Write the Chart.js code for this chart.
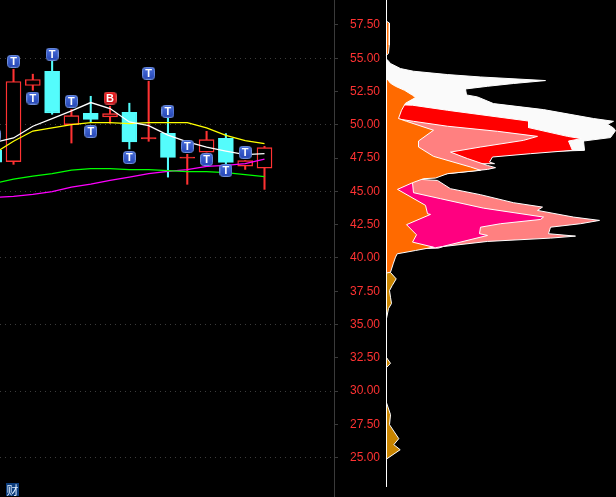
<!DOCTYPE html>
<html>
<head>
<meta charset="utf-8">
<title>K线与筹码分布</title>
<script src="https://cdn.jsdelivr.net/npm/chart.js@4/dist/chart.umd.min.js"></script>
<style>
  html, body { margin: 0; padding: 0; background: #000; overflow: hidden; }
  #stage { position: relative; width: 616px; height: 497px; background: #000; }
  #klineChart { position: absolute; left: 0; top: 0; }
  #chipChart { position: absolute; left: 385px; top: 0; }
  #badge {
    position: absolute; left: 6px; top: 483px; width: 13px; height: 13px;
    background: #0b3c7c; color: #dcecff; font: 12px/13px "Noto Sans CJK SC", sans-serif; text-align: center;
  }
</style>
</head>
<body>
<div id="stage">
  <canvas id="klineChart" width="380" height="497"></canvas>
  <canvas id="chipChart" width="231" height="497"></canvas>
  <div id="badge">财</div>
</div>
<script>
// price axis
const priceMin = 22.05;
const priceMax = 59.37;
const priceTicks = [25, 27.5, 30, 32.5, 35, 37.5, 40, 42.5, 45, 47.5, 50, 52.5, 55, 57.5];

// candles, k = 0 is cut off by the left edge
const candleIndex = [0, 1, 2, 3, 4, 5, 6, 7, 8, 9, 10, 11, 12, 13, 14];
const candleKind = ['down', 'up', 'up', 'down', 'up', 'down', 'up', 'down', 'doji', 'down', 'doji', 'up', 'down', 'up', 'up'];
const bodyTop = [48.08, 53.25, 53.40, 54.02, 50.69, 50.86, 50.84, 50.94, 49.04, 49.36, 47.57, 48.89, 48.98, 47.31, 48.28];
const bodyBottom = [47.20, 47.23, 52.95, 50.89, 50.01, 50.41, 50.59, 48.71, 48.93, 47.55, 47.50, 47.95, 47.18, 46.90, 46.75];
const wickHigh = [48.08, 54.17, 53.80, 54.77, 51.16, 52.14, 51.39, 51.62, 53.27, 50.49, 47.78, 49.51, 49.34, 47.31, 48.38];
const wickLow = [47.20, 47.03, 52.59, 50.79, 48.63, 50.19, 50.11, 48.18, 48.76, 46.07, 45.53, 47.95, 47.03, 46.65, 45.15];

// moving averages
const maWhite = [48.68, 49.01, 49.89, 50.46, 51.04, 51.67, 51.22, 50.21, 49.94, 49.23, 48.71, 48.33, 48.03, 47.76, 47.83];
const maYellow = [47.86, 48.76, 49.53, 49.76, 50.01, 50.16, 50.16, 50.09, 50.16, 50.16, 50.16, 49.76, 49.21, 48.81, 48.59];
const maGreen = [45.60, 45.92, 46.15, 46.33, 46.60, 46.71, 46.71, 46.63, 46.63, 46.56, 46.48, 46.48, 46.40, 46.25, 46.10];
const maMagenta = [44.55, 44.62, 44.77, 44.98, 45.32, 45.55, 45.82, 46.07, 46.33, 46.50, 46.63, 46.88, 46.95, 47.08, 47.43];

// T / B trade markers
const markIndex = [0, 1, 2, 3, 4, 5, 6, 7, 8, 9, 10, 11, 12, 13];
const markPrice = [49.21, 54.77, 52.01, 55.30, 51.77, 49.51, 52.01, 47.55, 53.87, 51.01, 48.38, 47.40, 46.58, 47.93];
const markText = ['T', 'T', 'T', 'T', 'T', 'T', 'B', 'T', 'T', 'T', 'T', 'T', 'T', 'T'];

// chip distribution layers, price against width
const whitePrices = [54.92, 54.85, 54.60, 54.22, 54.02, 53.77, 53.59, 53.32, 53.10, 52.89, 52.69, 52.24, 52.09, 51.59, 51.14, 50.47, 50.26, 50.04, 49.76, 49.56, 49.04, 48.78, 48.08, 48.04, 47.86];
const whiteWidths = [0, 1.3, 4, 14, 27, 61, 94, 159, 127, 101, 79, 80, 91, 107, 157, 207, 227, 221, 227, 229, 224, 197, 198, 180, 0];
const redPrices = [51.54, 51.47, 51.09, 50.28, 49.79, 49.13, 48.96, 48.78, 48.08, 47.83, 47.58, 47.20, 47.08, 47.03];
const redWidths = [0, 26, 61, 142, 142, 181, 195, 182, 186, 144, 106, 103, 108, 0];
const salmonPrices = [50.49, 50.41, 50.26, 49.89, 49.51, 49.13, 48.83, 48.33, 47.95, 47.46, 46.95, 46.78, 46.65, 46.33, 46.00, 45.90, 45.82, 45.20, 44.75, 44.15, 43.82, 43.57, 43.07, 42.82, 42.57, 42.31, 41.82, 41.64, 41.49, 41.24, 40.86, 40.74, 40.64];
const salmonWidths = [0, 14, 27, 61, 111, 151, 137, 94, 64, 81, 101, 109, 101, 61, 39, 34, 51, 64, 94, 127, 156, 151, 187, 213, 194, 164, 162, 189, 164, 101, 57, 52, 0];
const pinkPrices = [45.75, 45.65, 44.90, 44.45, 43.74, 43.07, 42.89, 42.57, 42.31, 41.82, 41.69, 40.86, 40.77, 40.71];
const pinkWidths = [0, 26, 27, 54, 97, 157, 154, 114, 94, 93, 101, 56, 49, 0];
const orangePrices = [57.78, 57.63, 56.95, 55.98, 55.37, 55.22, 53.50, 53.12, 52.89, 52.59, 52.22, 52.04, 51.62, 51.09, 50.47, 50.26, 49.59, 48.78, 48.33, 47.63, 46.83, 46.58, 46.33, 46.00, 45.95, 45.65, 45.15, 43.95, 43.32, 43.27, 42.50, 41.74, 41.19, 40.81, 40.56, 40.31, 40.06, 39.56, 38.93, 38.87];
const orangeWidths = [0, 3, 3, 2.5, 2, 0, 0, 4, 9, 18, 26, 29, 19, 15, 12, 20, 47, 32, 32, 47, 84, 94, 61, 49, 37, 26, 11, 39, 41, 44, 20, 30, 26, 47, 29, 10.7, 9, 6.7, 4, 0];
const goldPrices = [39.36, 38.91, 38.43, 37.93, 37.55, 37.05, 36.58, 36.20, 35.45, 32.52, 32.09, 31.77, 29.13, 28.23, 27.48, 26.43, 25.98, 25.60, 24.90];
const goldWidths = [0, 4, 9.7, 5.7, 3, 4, 5, 2, 0, 0, 4, 0, 0, 4, 3, 12.3, 7.3, 13.7, 0];
const baselinePrices = [priceMax, 22.82];
const baselineWidths = [0, 0];

const RED = '#ff3232';
const CYAN = '#54fcfc';

function toPoints(xs, ys) {
  return xs.map((x, i) => ({ x: x, y: ys[i] }));
}

function maLine(values, color, order) {
  return {
    type: 'line', data: toPoints(candleIndex, values), borderColor: color, borderWidth: 1.3,
    pointRadius: 0, tension: 0, fill: false, order: order
  };
}

function markerIcon(top, bottom, edge) {
  const icon = document.createElement('canvas');
  icon.width = 13;
  icon.height = 13;
  const c = icon.getContext('2d');
  const grad = c.createLinearGradient(0, 0, 0, 13);
  grad.addColorStop(0, top);
  grad.addColorStop(1, bottom);
  c.fillStyle = grad;
  c.strokeStyle = edge;
  c.beginPath();
  c.roundRect(0.5, 0.5, 12, 12, 3);
  c.fill();
  c.stroke();
  return icon;
}

const iconT = markerIcon('#4a70dc', '#2444b4', '#6f8ed8');
const iconB = markerIcon('#f02020', '#c00c14', '#d85050');

// writes the letter on each marker icon
const markerLetters = {
  id: 'markerLetters',
  afterDatasetsDraw(chart) {
    const ctx = chart.ctx;
    const points = chart.getDatasetMeta(0).data;
    ctx.save();
    ctx.fillStyle = '#ffffff';
    ctx.font = 'bold 11px "Liberation Sans"';
    ctx.textAlign = 'center';
    ctx.textBaseline = 'middle';
    points.forEach((pt, i) => {
      ctx.fillText(markText[i], pt.x, pt.y + 0.5);
    });
    ctx.restore();
  }
};

new Chart(document.getElementById('klineChart'), {
  type: 'line',
  data: {
    datasets: [
      {
        type: 'line', data: toPoints(markIndex, markPrice), showLine: false, order: 0,
        pointRadius: 7, pointStyle: markText.map((t) => (t === 'B' ? iconB : iconT))
      },
      maLine(maWhite, '#ffffff', 1),
      maLine(maYellow, '#ffff00', 2),
      maLine(maGreen, '#00ff00', 3),
      maLine(maMagenta, '#ff00ff', 4),
      {
        type: 'bar', order: 5, grouped: false, barThickness: 15, borderWidth: 1.4, borderSkipped: false,
        data: candleIndex.map((k, i) => ({ x: k, y: [bodyBottom[i], bodyTop[i]] })),
        backgroundColor: candleKind.map((kind) => (kind === 'down' ? CYAN : kind === 'doji' ? RED : '#000000')),
        borderColor: candleKind.map((kind) => (kind === 'down' ? CYAN : RED))
      },
      {
        type: 'bar', order: 6, grouped: false, barThickness: 1.4, borderWidth: 0,
        data: candleIndex.map((k, i) => ({ x: k, y: [wickLow[i], wickHigh[i]] })),
        backgroundColor: candleKind.map((kind) => (kind === 'down' ? CYAN : RED))
      }
    ]
  },
  options: {
    responsive: false,
    animation: false,
    events: [],
    layout: { padding: 0, autoPadding: false },
    plugins: { legend: { display: false }, tooltip: { enabled: false } },
    scales: {
      x: { type: 'linear', min: 0.3, max: 17.6, display: false, offset: false },
      y: {
        type: 'linear', position: 'right', min: priceMin, max: priceMax,
        afterBuildTicks: (scale) => { scale.ticks = priceTicks.map((v) => ({ value: v })); },
        afterFit: (scale) => { scale.width = 46; scale.paddingTop = 0; scale.paddingBottom = 0; },
        border: { display: true, color: '#3a3a3a', dash: [1, 4] },
        grid: {
          color: (c) => (c.tick && c.tick.value % 5 === 0 ? '#3c3c3c' : 'rgba(0,0,0,0)'),
          tickColor: '#3a3a3a', tickBorderDash: [], tickLength: 4
        },
        ticks: {
          color: RED, padding: 0, crossAlign: 'far', autoSkip: false, maxRotation: 0,
          font: { family: '"Liberation Sans"', size: 12 },
          callback: (value) => Number(value).toFixed(2)
        }
      }
    }
  },
  plugins: [markerLetters]
});

function chipLayer(prices, widths, color, order) {
  return {
    data: toPoints(widths, prices), backgroundColor: color, borderColor: '#ffffff', borderWidth: 1,
    pointRadius: 0, tension: 0, fill: { value: 0 }, order: order
  };
}

new Chart(document.getElementById('chipChart'), {
  type: 'line',
  data: {
    datasets: [
      { data: toPoints(baselineWidths, baselinePrices), borderColor: '#ffffff', borderWidth: 1, pointRadius: 0, fill: false, order: 0 },
      chipLayer(orangePrices, orangeWidths, '#ff6a00', 1),
      chipLayer(goldPrices, goldWidths, '#c88400', 2),
      chipLayer(pinkPrices, pinkWidths, '#ff0080', 3),
      chipLayer(salmonPrices, salmonWidths, '#ff8080', 4),
      chipLayer(redPrices, redWidths, '#ff0000', 5),
      chipLayer(whitePrices, whiteWidths, '#fafafa', 6)
    ]
  },
  options: {
    indexAxis: 'y',
    responsive: false,
    animation: false,
    events: [],
    layout: { padding: 0, autoPadding: false },
    plugins: { legend: { display: false }, tooltip: { enabled: false } },
    scales: {
      x: { type: 'linear', min: -1.5, max: 229.5, display: false },
      y: { type: 'linear', min: priceMin, max: priceMax, display: false }
    }
  }
});
</script>
</body>
</html>
